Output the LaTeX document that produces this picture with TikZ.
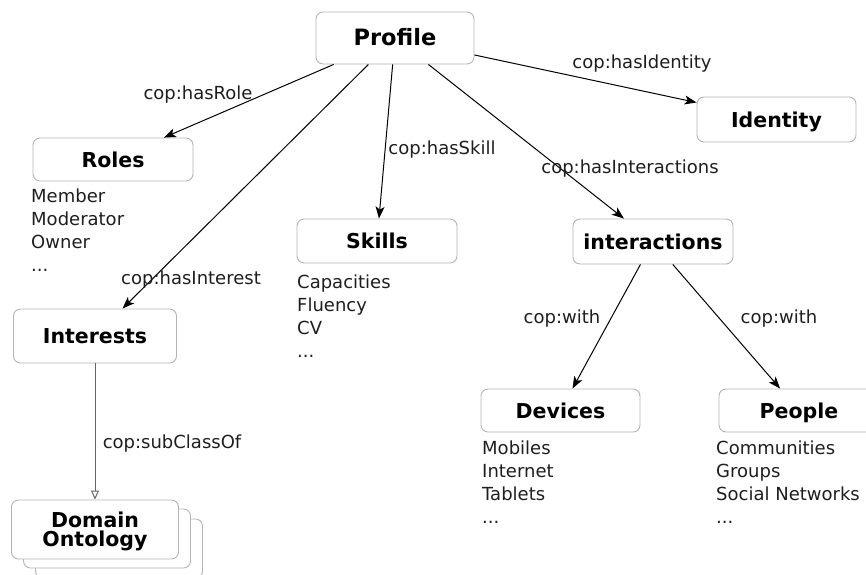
\documentclass[tikz,border=0pt]{standalone}
\usepackage{fontspec}
\setmainfont{DejaVu Sans}
\usetikzlibrary{arrows.meta}
\definecolor{boxline}{HTML}{B4B4B4}
\definecolor{ink}{HTML}{1E1E1E}
\definecolor{subline}{HTML}{666666}
\tikzset{
  concept/.style={draw=boxline, line width=0.9pt, rounded corners=7pt, fill=white,
    inner sep=0pt, align=center, font=\fontsize{20.5}{19}\bfseries},
  heading/.style={concept, text height=15pt, text depth=0pt},
  % lists are placed by the baseline of their last line
  itemlist/.style={anchor=base west, inner sep=0pt, align=left,
    font=\fontsize{18}{23}\selectfont, text=ink},
  rellabel/.style={anchor=base, inner sep=0pt, font=\fontsize{18}{20}\selectfont, text=ink},
  rel/.style={line width=1pt, -{Stealth[length=12pt,width=9pt,inset=3pt]}},
  subrel/.style={draw=subline, line width=1pt, -{Triangle[open,length=9pt,width=8pt]}},
}
\begin{document}
\begin{tikzpicture}[x=1pt, y=-1pt]
  \useasboundingbox (0,0) rectangle (866,574);
  \clip (0,0) rectangle (866,574);

  % concept boxes
  \node[heading, minimum width=158pt, minimum height=52pt, font=\fontsize{22.5}{22}\bfseries]
    (profile) at (395,38) {Profile};
  \node[heading, minimum width=160pt, minimum height=43pt] (roles) at (113,159.5) {Roles};
  \node[heading, minimum width=159pt, minimum height=45pt] (identity) at (776.5,119.5) {Identity};
  \node[heading, minimum width=160pt, minimum height=44pt] (skills) at (377,241) {Skills};
  \node[heading, minimum width=160pt, minimum height=45pt] (interactions) at (653,241.5) {interactions};
  \node[heading, minimum width=163pt, minimum height=54pt] (interests) at (95,336) {Interests};
  \node[heading, minimum width=159pt, minimum height=43pt] (devices) at (560.5,410.5) {Devices};
  \node[heading, minimum width=160pt, minimum height=43pt] (people) at (799,410.5) {People};

  % stacked domain ontology boxes
  \node[concept, minimum width=167pt, minimum height=59pt] (domainC) at (119,548.5) {};
  \node[concept, minimum width=167pt, minimum height=59pt] (domainB) at (107,538.5) {};
  \node[concept, minimum width=167pt, minimum height=59pt, text depth=0pt]
    (domain) at (95,529.5) {Domain\\Ontology};

  % item lists under the boxes
  \node[itemlist] (rolesList) at (31,271) {Member\\Moderator\\Owner\\...};
  \node[itemlist] (skillsList) at (297,357) {Capacities\\Fluency\\CV\\...};
  \node[itemlist] (devicesList) at (482,523) {Mobiles\\Internet\\Tablets\\...};
  \node[itemlist] (peopleList) at (716,523) {Communities\\Groups\\Social Networks\\...};

  % relations
  \draw[rel] (profile) -- (roles);
  \draw[rel] (profile) -- (interests);
  \draw[rel] (profile) -- (skills);
  \draw[rel] (profile) -- (interactions);
  \draw[rel] (profile) -- (identity);
  \draw[rel] (interactions) -- (devices);
  \draw[rel] (interactions) -- (people);
  \draw[subrel] (interests) -- (domain);

  % relation labels
  \node[rellabel] (lRole) at (198,99) {cop:hasRole};
  \node[rellabel] (lIdentity) at (642,68) {cop:hasIdentity};
  \node[rellabel] (lSkill) at (442,154) {cop:hasSkill};
  \node[rellabel] (lInteractions) at (630,173) {cop:hasInteractions};
  \node[rellabel] (lInterest) at (191,284) {cop:hasInterest};
  \node[rellabel] (lWithA) at (562,323) {cop:with};
  \node[rellabel] (lWithB) at (779,323) {cop:with};
  \node[rellabel] (lSub) at (172,448) {cop:subClassOf};
\end{tikzpicture}
\end{document}
